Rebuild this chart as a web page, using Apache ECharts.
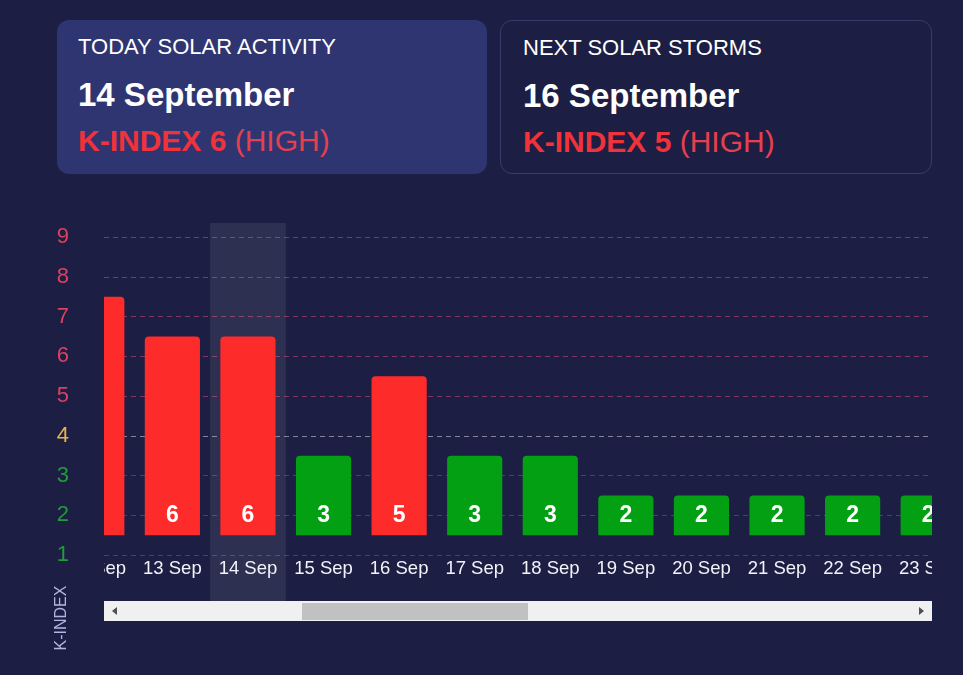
<!DOCTYPE html>
<html>
<head>
<meta charset="utf-8">
<script src="https://cdn.jsdelivr.net/npm/echarts@6.0.0/dist/echarts.min.js"></script>
<style>
  html, body { margin: 0; padding: 0; }
  body { width: 963px; height: 675px; background: #1c1f43; overflow: hidden; position: relative;
         font-family: "Liberation Sans", Arial, sans-serif; }
  .card { position: absolute; top: 20px; height: 154px; box-sizing: border-box; border-radius: 12px; }
  #card1 { left: 57px; width: 430px; background: #2f3571; }
  #card2 { left: 500px; width: 432px; border: 1px solid #373b6b; }
  .t { position: absolute; white-space: nowrap; color: #ffffff; }
  .t1 { font-size: 22px; line-height: 22px; top: 16px; }
  .t2 { font-size: 33px; line-height: 33px; font-weight: bold; top: 58px; }
  .t3 { font-size: 30px; line-height: 30px; top: 106px; color: #e4404f; }
  .t3 b { color: #f0323a; }
  #card1 .t { left: 21px; }
  #card2 .t { left: 22px; }
  #yChart { position: absolute; left: 0; top: 0; width: 963px; height: 675px; }
  #viewport { position: absolute; left: 104px; top: 0; width: 828px; height: 675px; overflow: hidden; }
  #xChart { position: absolute; left: -45px; top: 0; width: 907px; height: 675px; }
  #sb { position: absolute; left: 104px; top: 601px; width: 828px; height: 20px; background: #f0f0f1; }
  #thumb { position: absolute; left: 198px; top: 2px; width: 226px; height: 17px; background: #c1c1c1; }
  .arrow { position: absolute; top: 6px; width: 0; height: 0; border-top: 4px solid transparent; border-bottom: 4px solid transparent; }
  #al { left: 8px; border-right: 5px solid #4f4f4f; }
  #ar { left: 815px; border-left: 5px solid #4f4f4f; }
</style>
</head>
<body>
<div id="card1" class="card">
  <div class="t t1">TODAY SOLAR ACTIVITY</div>
  <div class="t t2">14 September</div>
  <div class="t t3"><b>K-INDEX 6</b> (HIGH)</div>
</div>
<div id="card2" class="card">
  <div class="t t1">NEXT SOLAR STORMS</div>
  <div class="t t2">16 September</div>
  <div class="t t3"><b>K-INDEX 5</b> (HIGH)</div>
</div>
<div id="yChart"></div>
<div id="viewport"><div id="xChart"></div></div>
<div id="sb"><div id="al" class="arrow"></div><div id="thumb"></div><div id="ar" class="arrow"></div></div>
<script>
// ---- data ----
const categories = ['12 Sep', '13 Sep', '14 Sep', '15 Sep', '16 Sep', '17 Sep', '18 Sep', '19 Sep', '20 Sep', '21 Sep', '22 Sep', '23 Sep'];
const kIndex = [7, 6, 6, 3, 5, 3, 3, 2, 2, 2, 2, 2];
const yTickLabels = ['1', '2', '3', '4', '5', '6', '7', '8', '9'];
const today = '14 Sep';
const barFloor = 1;
const highLevel = 5;
const midLevel = 4;

const FONT = '"Liberation Sans", Arial, sans-serif';
const RED = '#fe2b2b', ORANGE = '#f5a623', GREEN = '#03a014';
function barColor(v) { return v >= highLevel ? RED : (v >= midLevel ? ORANGE : GREEN); }
function labelColor(v) { return v >= highLevel ? '#dc4160' : (v >= midLevel ? '#ecb04e' : '#1f9c3b'); }
function lineColor(v) { return v >= highLevel ? 'rgba(215,75,125,0.55)' : (v >= midLevel ? 'rgba(255,255,255,0.45)' : 'rgba(255,255,255,0.18)'); }

// ---- y axis chart (labels + grid lines) ----
const yChart = echarts.init(document.getElementById('yChart'), null, { renderer: 'canvas' });
yChart.setOption({
  backgroundColor: 'transparent',
  animation: false,
  grid: { left: 104, right: 31, top: 237, bottom: 120 },
  xAxis: { type: 'value', show: false, min: 0, max: 1 },
  yAxis: {
    type: 'category',
    data: yTickLabels,
    boundaryGap: false,
    axisLine: { show: false },
    axisTick: { show: false },
    axisLabel: {
      margin: 35, fontSize: 22, fontFamily: FONT,
      color: (val) => labelColor(Number(val))
    },
    splitLine: {
      show: true,
      lineStyle: { type: [5, 4], width: 1, color: yTickLabels.map(l => lineColor(Number(l))) }
    }
  },
  graphic: [{
    type: 'text', x: 62, y: 618, rotation: Math.PI / 2,
    style: { text: 'K-INDEX', fill: '#b4b4e2', fontSize: 16, fontFamily: FONT, align: 'center', verticalAlign: 'middle' }
  }],
  series: []
});

// ---- bars chart (wide strip, scrolled inside a clipping viewport) ----
const xChart = echarts.init(document.getElementById('xChart'), null, { renderer: 'canvas' });
const barData = categories.map((c, i) => [i, kIndex[i]]);
xChart.setOption({
  backgroundColor: 'transparent',
  animation: false,
  grid: [
    { left: 0, right: 0, top: 223, bottom: 74 },
    { left: 0, right: 0, top: 237, bottom: 120 }
  ],
  xAxis: [
    {
      type: 'category', gridIndex: 0, data: categories,
      axisLine: { show: false }, axisTick: { show: false }, axisLabel: { show: false }, splitLine: { show: false },
      axisPointer: {
        show: true, type: 'shadow', value: today, status: 'show', z: 0,
        triggerTooltip: false, label: { show: false },
        shadowStyle: { color: 'rgba(255,255,255,0.08)' }
      }
    },
    {
      type: 'category', gridIndex: 1, data: categories,
      axisLine: { show: false }, axisTick: { show: false }, splitLine: { show: false },
      axisLabel: { color: '#f2f2f8', fontSize: 18.5, fontFamily: FONT, margin: 4, interval: 0 }
    }
  ],
  yAxis: [
    { type: 'value', gridIndex: 0, show: false, min: 0, max: 1, splitLine: { show: false } },
    { type: 'value', gridIndex: 1, show: false, min: 0.5, max: 8.5, splitLine: { show: false } }
  ],
  series: [{
    type: 'custom',
    xAxisIndex: 1, yAxisIndex: 1,
    encode: { x: 0, y: 1 },
    data: barData,
    z: 5,
    renderItem: function (params, api) {
      const idx = api.value(0);
      const v = api.value(1);
      const top = api.coord([idx, v]);
      const base = api.coord([idx, barFloor]);
      const bw = api.size([1, 0])[0] * 0.73;
      return {
        type: 'rect',
        shape: { x: top[0] - bw / 2, y: top[1], width: bw, height: base[1] - top[1], r: [4, 4, 0, 0] },
        style: { fill: barColor(v) },
        textContent: {
          style: { text: String(v), fill: '#ffffff', fontSize: 23, fontWeight: 'bold', fontFamily: FONT }
        },
        textConfig: { position: 'insideBottom', distance: 8 }
      };
    }
  }]
});
</script>
</body>
</html>
